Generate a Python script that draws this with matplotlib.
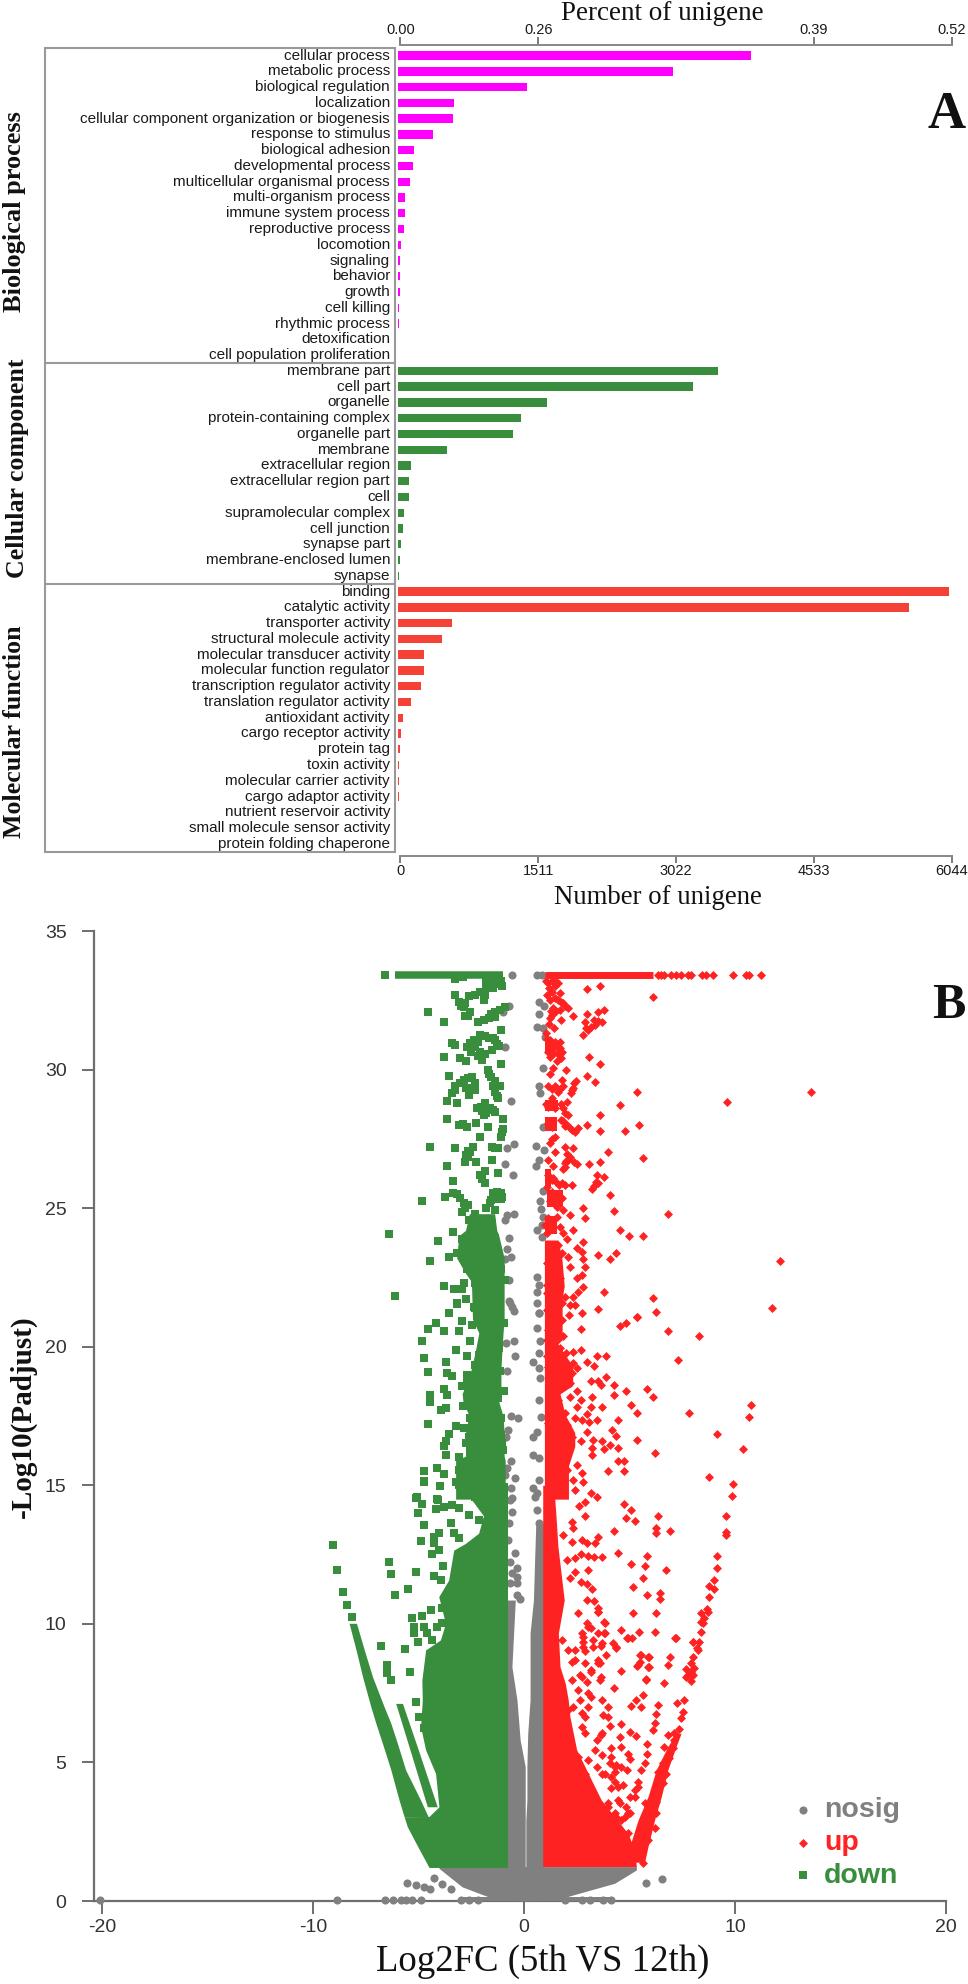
import numpy as np
import matplotlib
matplotlib.use('Agg')
import matplotlib.pyplot as plt
from matplotlib.patches import Rectangle

W, H = 968, 1984

# Panel A: GO classes
bp_terms = ['cellular process', 'metabolic process', 'biological regulation', 'localization',
            'cellular component organization or biogenesis', 'response to stimulus', 'biological adhesion',
            'developmental process', 'multicellular organismal process', 'multi-organism process',
            'immune system process', 'reproductive process', 'locomotion', 'signaling', 'behavior', 'growth',
            'cell killing', 'rhythmic process', 'detoxification', 'cell population proliferation']
bp_values = [3869, 3019, 1421, 612, 605, 381, 177, 170, 129, 75, 75, 68, 34, 27, 24, 20, 15, 12, 8, 6]
cc_terms = ['membrane part', 'cell part', 'organelle', 'protein-containing complex', 'organelle part', 'membrane',
            'extracellular region', 'extracellular region part', 'cell', 'supramolecular complex', 'cell junction',
            'synapse part', 'membrane-enclosed lumen', 'synapse']
cc_values = [3509, 3243, 1638, 1356, 1260, 542, 149, 128, 128, 69, 53, 37, 27, 16]
mf_terms = ['binding', 'catalytic activity', 'transporter activity', 'structural molecule activity',
            'molecular transducer activity', 'molecular function regulator', 'transcription regulator activity',
            'translation regulator activity', 'antioxidant activity', 'cargo receptor activity', 'protein tag',
            'toxin activity', 'molecular carrier activity', 'cargo adaptor activity', 'nutrient reservoir activity',
            'small molecule sensor activity', 'protein folding chaperone']
mf_values = [6044, 5603, 592, 483, 292, 286, 258, 150, 54, 34, 25, 12, 10, 10, 8, 5, 3]
count_ticks = [0, 1511, 3022, 4533, 6044]
percent_ticks = [0, 1511, 4533, 6044]
percent_labels = ['0.00', '0.26', '0.39', '0.52']

# Panel B: points (log2FC, -log10 padj)
top_y = 33.4
down_top_x = [-6.59, -6.1, -1.0]
up_top_x = [1.0, 6.1]
up_top_extra = [6.34, 6.49, 6.65, 6.97, 7.2, 7.44, 7.75, 7.91, 8.45, 8.6, 8.93, 9.92, 10.5, 10.66, 11.24]
gray_base_x = [-20.13, -8.89, -6.59, -6.24, -5.85, -5.61, -5.3, -4.91, -3.0, -2.6, -2.2, 1.94, 2.72, 3.11, 3.74, 4.14]
volcano_xticks = [-20, -10, 0, 10, 20]
volcano_yticks = [0, 5, 10, 15, 20, 25, 30, 35]

gray_points = np.array([
    (-0.58, 33.4), (-0.74, 32.3), (-0.98, 32.07), (-0.9, 30.83), (-0.63, 28.86), (-0.46, 27.3), (-0.79, 27.16),
    (-0.9, 26.59), (-0.52, 26.19), (-0.5, 24.79), (-0.82, 24.75), (-0.93, 24.57), (-0.71, 23.94), (-0.8, 23.52),
    (-0.61, 23.23), (-0.9, 23.17), (-0.74, 22.41), (-0.71, 21.65), (-0.58, 21.45), (-0.5, 21.3), (-0.66, 21.57),
    (-0.86, 20.15), (-0.5, 20.19), (-0.42, 19.67), (-0.82, 19.13), (-0.61, 17.5), (-0.3, 17.44), (-0.77, 17.0),
    (-0.86, 16.76), (-0.61, 15.89), (-0.82, 15.62), (-0.45, 15.25), (-0.89, 15.37), (-0.61, 14.89), (-0.58, 14.53),
    (0.71, 21.21), (0.6, 20.67), (0.76, 20.19), (0.71, 19.77), (0.44, 19.46), (0.68, 19.22), (0.76, 18.86),
    (0.71, 18.08), (0.8, 17.48), (0.6, 16.94), (0.44, 16.73), (0.44, 16.1), (0.71, 15.98), (0.44, 14.89), (0.71, 15.2),
    (0.52, 14.59), (0.6, 33.4), (0.85, 33.4), (0.68, 32.43), (0.96, 32.3), (0.68, 32.01), (0.6, 31.53), (0.91, 31.49),
    (0.99, 31.19), (0.87, 30.05), (0.68, 29.42), (0.76, 29.14), (0.91, 27.94), (0.57, 27.24), (0.94, 27.1),
    (0.68, 26.74), (0.57, 26.53), (0.87, 25.63), (0.76, 25.27), (0.8, 24.96), (0.91, 24.69), (0.6, 24.21), (0.83, 24.39),
    (0.83, 23.97), (0.6, 22.53), (0.68, 22.23), (0.6, 21.99), (0.6, 21.57), (0.68, 21.2),
    (-0.67, 14.47), (-0.59, 14.05), (-0.71, 13.63), (-0.75, 13.03), (-0.43, 12.57), (-0.67, 12.24), (-0.35, 12.0),
    (-0.59, 11.82), (-0.35, 11.7), (-0.67, 11.46), (-0.32, 11.46), (-0.35, 11.04), (-0.2, 10.88), (-0.75, 10.68),
    (0.6, 14.71), (0.6, 14.1), (0.68, 13.63),
    (-5.54, 0.66), (-5.14, 0.57), (-4.75, 0.51), (-4.47, 0.45), (-4.28, 0.82), (-3.89, 0.63), (-3.49, 0.45),
    (5.79, 0.66), (6.54, 0.8)])

down_points = np.array([
    (-3.26, 33.26), (-1.76, 33.17), (-1.06, 33.0), (-1.76, 32.93), (-3.26, 32.69), (-2.31, 32.69), (-1.84, 32.69),
    (-1.92, 32.51), (-3.1, 32.45), (-2.79, 32.39), (-2.86, 32.25), (-0.93, 32.25), (-2.55, 32.09), (-4.56, 32.08),
    (-1.37, 32.09), (-2.82, 31.94), (-1.68, 31.85), (-1.4, 31.89), (-3.82, 31.73), (-2.19, 31.73), (-1.09, 31.44),
    (-2.08, 31.25), (-2.39, 31.07), (-1.68, 31.13), (-1.37, 31.07), (-2.71, 30.83), (-2.31, 30.83), (-1.29, 30.93),
    (-2.08, 30.65), (-1.53, 30.71), (-3.41, 30.95), (-3.26, 30.89), (-2.0, 30.35), (-3.82, 30.47), (-3.02, 30.41),
    (-2.78, 30.32), (-1.09, 30.19), (-1.72, 29.99), (-1.56, 29.75), (-3.57, 29.77), (-2.47, 29.72), (-2.86, 29.63),
    (-1.4, 29.57), (-2.31, 29.51), (-1.13, 29.42), (-3.26, 29.39), (-2.31, 29.27), (-3.41, 29.14), (-1.4, 29.2),
    (-2.63, 29.08), (-1.24, 28.99), (-3.65, 28.87), (-3.18, 28.78), (-1.87, 28.78), (-2.23, 28.63), (-1.61, 28.6),
    (-1.37, 28.48), (-1.92, 28.36), (-3.65, 28.22), (-0.98, 28.22), (-3.1, 28.0), (-2.71, 27.92), (-2.27, 28.09),
    (-1.72, 27.93), (-0.98, 27.86), (-2.08, 27.58), (-1.09, 27.58), (-4.47, 27.22), (-3.26, 27.17), (-2.44, 27.22),
    (-1.53, 27.22), (-1.24, 27.16), (-2.78, 26.9), (-2.55, 27.04), (-1.53, 26.74), (-2.82, 26.68), (-2.27, 26.68),
    (-3.65, 26.52), (-1.87, 26.35), (-2.08, 26.19), (-1.24, 26.26), (-1.87, 25.9), (-3.37, 25.98), (-4.83, 25.27),
    (-3.73, 25.42), (-3.38, 25.56), (-3.02, 25.36), (-2.66, 25.11), (-2.97, 24.87), (-1.29, 25.6), (-1.45, 25.42),
    (-1.06, 25.39), (-1.61, 25.2), (-1.81, 25.0), (-1.37, 24.93), (-2.31, 24.79), (-2.63, 24.57), (-2.08, 24.51),
    (-1.53, 24.48), (-1.76, 24.27), (-6.39, 24.08), (-3.37, 24.15), (-4.09, 23.8), (-2.94, 23.88), (-2.63, 23.97),
    (-2.31, 23.79), (-1.37, 23.91), (-2.78, 23.67), (-2.0, 23.67), (-3.57, 23.25), (-3.18, 23.37), (-2.66, 23.31),
    (-1.84, 23.37), (-1.29, 23.37), (-4.47, 23.09), (-1.61, 23.07), (-2.71, 22.81), (-2.23, 22.83), (-1.84, 22.83),
    (-1.09, 22.81), (-1.92, 22.53), (-1.37, 22.53), (-0.93, 22.41), (-3.81, 22.2), (-3.34, 22.08), (-2.86, 22.29),
    (-2.34, 22.31), (-2.94, 22.08), (-2.08, 22.11), (-1.21, 22.17), (-1.4, 21.87), (-6.12, 21.84), (-2.74, 21.71),
    (-3.18, 21.57), (-2.0, 21.75), (-1.61, 21.69), (-2.39, 21.45), (-1.68, 21.39), (-1.21, 21.39), (-3.57, 21.2),
    (-2.0, 21.15), (-1.37, 21.15),
    (-3.17, 21.55), (-3.54, 21.21), (-4.2, 20.87), (-4.56, 20.64), (-3.8, 20.57), (-4.83, 20.22), (-2.55, 20.22),
    (-3.1, 20.58), (-2.31, 21.39), (-1.13, 21.09), (-1.84, 20.97), (-2.94, 20.91), (-2.47, 20.79), (-1.9, 20.55),
    (-0.97, 20.85), (-1.45, 20.31), (-1.21, 19.95), (-1.9, 20.07), (-3.25, 19.89), (-2.7, 19.67), (-2.15, 19.7),
    (-1.45, 19.65), (-2.15, 19.4), (-2.31, 19.34), (-4.73, 19.6), (-3.72, 19.46), (-4.56, 19.1), (-3.65, 19.04),
    (-3.44, 18.95), (-2.7, 18.98), (-2.07, 18.95), (-1.4, 19.02), (-1.13, 19.12), (-2.15, 18.74), (-2.7, 18.68),
    (-2.97, 18.59), (-1.71, 18.62), (-3.8, 18.48), (-0.97, 18.41), (-2.47, 18.42), (-3.65, 18.26), (-4.46, 18.26),
    (-4.46, 18.02), (-1.6, 18.26), (-1.24, 18.14), (-2.91, 17.86), (-2.62, 17.96), (-2.23, 17.86), (-1.87, 17.84),
    (-1.52, 17.84), (-1.52, 17.68), (-3.72, 17.78), (-3.93, 17.7), (-4.56, 17.2), (-2.55, 17.42), (-1.08, 17.42),
    (-3.25, 17.14), (-2.86, 17.06), (-2.47, 17.14), (-2.0, 17.24), (-1.6, 17.22), (-1.13, 17.12), (-3.57, 16.84),
    (-2.62, 16.76), (-2.0, 16.94), (-1.08, 16.82), (-3.72, 16.58), (-2.78, 16.52), (-2.15, 16.46), (-1.05, 16.52),
    (-3.8, 16.4), (-2.55, 16.22), (-1.76, 16.28), (-3.72, 16.1), (-1.29, 16.16), (-1.02, 16.28), (-3.1, 16.01),
    (-4.73, 15.53), (-4.12, 15.62), (-3.8, 15.41), (-2.78, 15.8), (-3.1, 15.56), (-2.31, 15.67), (-1.6, 15.74),
    (-1.13, 15.56), (-4.73, 15.17), (-3.25, 15.13), (-4.01, 14.98), (-2.62, 15.31), (-2.0, 15.43), (-1.68, 15.2),
    (-1.21, 15.13), (-3.0, 15.0), (-2.15, 14.83), (-1.45, 14.77), (-5.09, 14.57), (-4.12, 14.5), (-2.31, 14.59),
    (-4.76, 15.13), (-4.0, 14.97), (-3.1, 15.01), (-5.12, 14.55), (-4.83, 14.32), (-4.1, 14.47), (-4.2, 14.13),
    (-3.81, 14.23), (-3.42, 14.29), (-3.1, 14.17), (-5.02, 13.99), (-2.63, 13.93), (-2.48, 14.65), (-2.16, 13.75),
    (-4.76, 13.57), (-3.47, 13.63), (-4.05, 13.29), (-4.28, 13.15), (-3.34, 13.27), (-3.1, 13.08), (-4.91, 13.0),
    (-4.28, 12.9), (-4.05, 12.66), (-4.39, 12.52), (-9.06, 12.86), (-8.87, 11.94), (-8.61, 11.16), (-8.42, 10.68),
    (-8.18, 10.26), (-6.41, 12.22), (-3.83, 12.09), (-6.31, 11.8), (-5.12, 11.88), (-4.28, 11.74), (-3.92, 11.6),
    (-5.5, 11.24), (-6.13, 11.04), (-4.44, 10.5), (-4.83, 10.28), (-3.89, 10.56), (-5.3, 10.2), (-5.23, 9.9),
    (-5.23, 9.66), (-4.75, 9.9), (-3.89, 10.02), (-4.13, 9.9), (-4.6, 9.66), (-4.39, 9.42), (-5.04, 9.36), (-6.77, 9.21),
    (-5.67, 9.08), (-6.49, 8.51), (-6.49, 8.21), (-5.39, 8.27), (-6.32, 7.97), (-5.11, 7.17), (-4.99, 6.65),
    (-4.59, 6.95), (-4.75, 6.23),
    (-2.1, 32.8), (-1.5, 32.95), (-1.2, 33.15), (-2.6, 32.65), (-3.0, 32.3), (-2.65, 31.95), (-1.55, 32.0), (-1.15, 32.15),
    (-1.9, 31.8), (-2.2, 31.0), (-1.85, 31.2), (-1.5, 31.15), (-2.55, 30.95), (-2.5, 30.65), (-1.85, 30.55), (-2.2, 30.5),
    (-1.2, 30.85), (-1.65, 29.85), (-2.65, 29.7), (-3.05, 29.5), (-1.5, 29.4), (-2.45, 29.35), (-2.75, 29.35), (-3.3, 29.25),
    (-1.3, 29.05), (-2.05, 28.65), (-2.0, 28.5), (-1.8, 28.45), (-1.5, 28.55), (-2.9, 28.05), (-1.05, 27.75), (-2.65, 27.05),
    (-2.65, 26.85), (-1.4, 27.18), (-2.0, 26.05), (-3.2, 25.5), (-2.85, 25.2), (-2.8, 25.0), (-1.55, 25.3), (-1.35, 25.55),
    (-1.2, 25.45)])

# tightly packed clumps of the down cloud: x from, x to, y from, y to
down_clumps = np.array([
    (-1.98, -0.9, 32.95, 33.35), (-3.4, -2.7, 33.2, 33.3), (-1.68, -0.9, 25.2, 25.7)])

up_points = np.array([
    (2.96, 32.91), (3.6, 33.0), (6.09, 32.63), (1.15, 33.11), (1.62, 33.11), (1.46, 33.0), (1.31, 32.81), (1.7, 32.78),
    (1.23, 32.51), (1.62, 32.51), (1.86, 32.39), (2.09, 32.21), (1.39, 32.21), (1.7, 32.15), (1.31, 31.97), (1.75, 31.79),
    (1.23, 31.85), (2.33, 31.94), (2.96, 32.01), (3.51, 32.09), (3.79, 32.15), (2.88, 31.73), (3.7, 31.73), (3.35, 31.61),
    (3.04, 31.43), (1.43, 31.49), (2.77, 31.23), (1.04, 31.31), (1.23, 31.07), (1.7, 31.01), (1.31, 30.83), (1.7, 30.77),
    (1.15, 30.65), (1.78, 30.65), (1.23, 30.47), (1.75, 30.41), (3.07, 30.47), (3.6, 30.19), (1.38, 30.05), (1.97, 29.97),
    (1.23, 29.83), (2.96, 29.77), (3.35, 29.54), (1.78, 29.63), (2.44, 29.57), (1.15, 29.41), (1.46, 29.41), (1.86, 29.39),
    (2.33, 29.33), (1.62, 29.2), (2.2, 29.14), (5.35, 29.19), (13.6, 29.19), (9.64, 28.84), (1.31, 28.96), (2.01, 28.84),
    (1.15, 28.66), (1.46, 28.6), (1.86, 28.6), (4.53, 28.71), (2.09, 28.36), (3.6, 28.36), (1.15, 28.06), (1.31, 27.94),
    (1.75, 28.18), (2.01, 28.0), (2.28, 27.82), (2.56, 27.88), (2.96, 28.01), (3.6, 27.8), (4.8, 27.8), (5.46, 28.01),
    (1.46, 27.58), (1.23, 27.34), (1.93, 27.22), (2.33, 27.16), (3.98, 27.02), (1.46, 27.04), (1.15, 26.74), (2.17, 26.86),
    (1.93, 26.62), (5.63, 26.81), (2.49, 26.58), (3.07, 26.59), (3.6, 26.68), (1.38, 26.53), (1.86, 26.4), (1.15, 26.2),
    (1.38, 26.08), (1.78, 25.9), (2.25, 25.84), (3.43, 26.2), (3.79, 26.11), (3.51, 25.9), (3.22, 25.68), (1.07, 25.78),
    (1.31, 25.6), (1.62, 25.48), (4.06, 25.48), (1.23, 25.24), (1.78, 25.36), (1.54, 25.05), (2.78, 25.0), (4.25, 24.91),
    (6.81, 24.79), (1.86, 24.93), (2.17, 24.75), (2.88, 24.63), (1.15, 24.63), (1.54, 24.69), (0.99, 24.39), (1.31, 24.39),
    (1.7, 24.33), (1.07, 24.09), (1.86, 24.12), (2.33, 24.21), (4.53, 24.21), (4.99, 24.01), (5.63, 24.01), (2.05, 23.88),
    (2.78, 23.79), (1.23, 23.67), (1.62, 23.67), (2.49, 23.55), (2.72, 23.43), (1.31, 23.43), (1.78, 23.37), (2.09, 23.25),
    (3.51, 23.31), (4.36, 23.37), (4.06, 23.17), (2.8, 23.17), (12.13, 23.09), (1.07, 23.01), (2.17, 22.89), (2.88, 22.89),
    (1.31, 22.59), (2.72, 22.59), (1.7, 22.47), (2.49, 22.47), (1.07, 22.23), (1.46, 22.23), (2.8, 22.17), (2.56, 21.99),
    (3.79, 21.99), (1.07, 21.93), (1.54, 21.87), (1.93, 21.81), (2.31, 21.81), (6.09, 21.77), (1.31, 21.63), (1.78, 21.57),
    (2.17, 21.51), (3.51, 21.35), (11.76, 21.41), (6.24, 21.27), (1.07, 21.33), (1.54, 21.27), (2.72, 21.23), (5.35, 21.09),
    (5.36, 21.06), (4.81, 20.87), (4.53, 20.73), (2.69, 20.64), (6.81, 20.58), (8.3, 20.37), (2.41, 21.51), (2.14, 21.14),
    (1.31, 20.97), (1.78, 20.97), (1.15, 20.61), (1.54, 20.61), (1.86, 20.37), (1.07, 20.25), (1.31, 20.07), (1.7, 19.95),
    (2.69, 19.89), (2.33, 19.8), (2.0, 19.77), (3.43, 19.68), (3.9, 19.67), (2.96, 19.46), (3.33, 19.32), (7.28, 19.52),
    (1.07, 19.65), (1.46, 19.6), (1.15, 19.28), (1.54, 19.22), (2.33, 19.4), (2.49, 19.22), (1.31, 18.98), (1.94, 18.98),
    (2.25, 19.04), (3.9, 18.9), (3.19, 18.77), (3.51, 18.77), (3.62, 18.61), (4.26, 18.62), (2.17, 18.68), (2.49, 18.42),
    (4.81, 18.41), (5.82, 18.48), (1.46, 18.56), (4.26, 18.26), (6.1, 18.19), (3.24, 18.19), (2.69, 18.06), (1.23, 18.2),
    (1.62, 18.08), (2.17, 18.2), (1.31, 17.84), (2.52, 17.84), (3.15, 17.84), (3.7, 17.84), (5.08, 17.91), (10.74, 17.91),
    (5.36, 17.62), (7.83, 17.62), (10.66, 17.48), (1.94, 17.6), (2.96, 17.56), (2.41, 17.42), (4.45, 17.35), (3.43, 17.35),
    (3.07, 17.28), (1.15, 17.24), (1.54, 17.24), (2.01, 17.18), (2.72, 17.36), (4.17, 17.0), (2.96, 16.93), (1.31, 16.94),
    (2.25, 16.76), (4.36, 16.78), (9.12, 16.85), (5.36, 16.64), (2.69, 16.58), (3.27, 16.64), (3.7, 16.58), (4.07, 16.45),
    (1.23, 16.46), (2.01, 16.46), (3.24, 16.34), (3.79, 16.3), (4.45, 16.36), (10.39, 16.3), (3.22, 16.1), (6.18, 16.16),
    (1.46, 16.16), (2.09, 16.28), (4.45, 15.87), (4.73, 15.87), (2.52, 15.74), (2.01, 15.56), (3.98, 15.53), (4.73, 15.53),
    (8.74, 15.31), (2.72, 15.43), (1.7, 15.31), (2.33, 15.2), (2.8, 15.13), (9.91, 15.04), (3.16, 14.71), (3.43, 14.59),
    (9.84, 14.62), (1.78, 14.77), (2.41, 14.83), (2.6, 14.26), (2.88, 14.41), (4.72, 14.32), (5.08, 14.11), (4.81, 13.83),
    (5.27, 13.71), (6.34, 13.9), (9.58, 13.9), (2.88, 13.9), (2.25, 13.69), (2.33, 13.45), (4.26, 13.35), (6.26, 13.45),
    (6.26, 13.27), (6.92, 13.35), (9.56, 13.33), (9.56, 13.2), (1.86, 13.2), (3.51, 13.15), (2.72, 13.03), (2.25, 12.96),
    (2.96, 12.9), (3.35, 12.9), (4.45, 12.57), (5.82, 12.45), (9.12, 12.45), (2.69, 12.52), (3.04, 12.45), (3.32, 12.42),
    (3.7, 12.42), (2.41, 12.36), (2.01, 12.3), (5.08, 12.16), (5.71, 12.09), (9.12, 12.03), (6.73, 11.94), (3.04, 11.94),
    (2.41, 11.88), (5.63, 11.67), (9.01, 11.6), (2.17, 11.64), (2.69, 11.52), (2.96, 11.44), (5.16, 11.32), (3.24, 11.24),
    (8.74, 11.36), (8.98, 11.24), (6.46, 11.12), (5.82, 11.03), (6.46, 10.88), (8.74, 10.97), (2.96, 10.86), (3.32, 10.82),
    (3.51, 10.56), (8.67, 10.52), (3.51, 10.41), (5.17, 10.4), (6.26, 10.4), (8.38, 10.4), (8.7, 10.44), (8.54, 10.2),
    (3.79, 10.05), (8.46, 10.02), (2.56, 10.38), (2.96, 10.02), (4.61, 9.78), (5.44, 9.71), (6.18, 9.71), (8.38, 9.71),
    (3.79, 9.66), (3.19, 9.84), (2.8, 9.54), (4.89, 9.5), (5.11, 9.5), (7.17, 9.5), (3.27, 9.42), (2.77, 9.33), (8.02, 9.36),
    (8.3, 9.36), (3.62, 9.21), (3.27, 9.17), (4.21, 9.3), (4.37, 9.12), (8.18, 9.12), (2.41, 9.06), (2.88, 9.02), (3.9, 8.87),
    (5.55, 8.87), (5.9, 8.79), (6.92, 8.79), (8.02, 8.81), (5.47, 8.63), (3.59, 8.57), (6.81, 8.51), (5.9, 8.45), (5.36, 8.48),
    (7.91, 8.6), (7.67, 8.37), (8.07, 8.39), (4.61, 8.31), (3.16, 8.27), (2.25, 8.63), (7.75, 8.15), (7.99, 8.15), (5.79, 8.0),
    (3.66, 8.09), (2.64, 8.15), (8.38, 10.08), (3.82, 10.04), (3.51, 10.44), (7.2, 9.48),
    (4.92, 9.48), (7.99, 9.36), (8.22, 9.06), (4.37, 9.18), (3.82, 9.66), (5.47, 8.87), (5.87, 8.79), (5.4, 8.51),
    (5.87, 8.45), (3.51, 8.57), (7.91, 8.27), (7.67, 8.09), (7.91, 7.94), (5.79, 7.97), (6.61, 7.85), (3.59, 7.97), (2.96, 7.91),
    (4.25, 7.67), (5.63, 7.43), (5.32, 7.25), (7.25, 7.13), (7.6, 7.25), (5.08, 7.03), (5.55, 6.99), (6.34, 7.09), (3.98, 7.01),
    (7.52, 6.83), (6.26, 6.75), (3.74, 6.71), (7.44, 6.59), (6.18, 6.41), (4.06, 6.32), (4.61, 6.4), (6.1, 6.17), (7.36, 6.19),
    (7.12, 6.05), (5.0, 6.08), (5.32, 5.95), (3.62, 5.99), (4.53, 5.93), (6.81, 5.99), (7.12, 5.81), (5.82, 5.65), (4.61, 5.57),
    (6.65, 5.57), (4.14, 5.51), (7.05, 5.51), (5.82, 5.3), (4.92, 5.3), (5.0, 5.11), (6.89, 5.15), (3.67, 5.27), (5.71, 4.99),
    (6.57, 4.97), (4.37, 4.9), (4.06, 4.97), (4.89, 4.73), (5.55, 4.73), (6.34, 4.66), (4.29, 4.66), (6.73, 4.6), (3.82, 4.6),
    (4.29, 4.3), (5.4, 4.3), (6.57, 4.24), (4.69, 4.18), (5.24, 4.0), (6.34, 4.06), (4.14, 4.06), (5.0, 3.76), (5.71, 3.52),
    (4.45, 3.64), (3.98, 3.52), (4.84, 3.4), (6.26, 3.58), (5.94, 3.16), (6.26, 3.16), (4.37, 3.04), (4.61, 2.92), (5.0, 3.16),
    (6.18, 2.62), (5.63, 1.36), (5.87, 2.2),
    (2.33, 7.01), (2.72, 6.77), (3.04, 7.01), (3.19, 7.37), (2.64, 7.25), (2.09, 6.89), (3.67, 6.05), (3.43, 5.81), (2.88, 6.05),
    (2.72, 6.29), (2.56, 5.21), (3.04, 5.09), (3.43, 4.85), (3.67, 4.6), (4.29, 4.85), (4.14, 4.48), (4.45, 4.12), (2.88, 4.6),
    (2.56, 4.85), (3.19, 3.64), (3.67, 3.04), (3.98, 3.4), (4.29, 3.16), (4.53, 3.52), (4.92, 3.16), (5.4, 4.12), (5.24, 3.76),
    (4.77, 3.04), (4.92, 2.44), (4.45, 2.44), (2.72, 9.66), (3.04, 9.9), (3.51, 9.66), (2.8, 9.18), (2.41, 8.69), (2.88, 8.57),
    (3.19, 8.33), (2.72, 8.09), (3.67, 9.3), (3.51, 8.69), (2.25, 7.97), (2.09, 9.06), (1.78, 9.42), (2.56, 7.61), (3.04, 7.49),
    (3.67, 7.25), (2.88, 6.65), (3.98, 6.65), (3.35, 5.45), (4.14, 5.21), (4.61, 4.85),
    (1.05, 33.2), (1.3, 33.2), (1.5, 33.15), (1.2, 32.95), (1.1, 32.7), (1.45, 32.6), (1.75, 32.45), (1.95, 32.3), (1.25, 32.1),
    (1.5, 32.1), (1.2, 31.65), (3.3, 31.8), (3.5, 31.75), (3.15, 31.55), (2.95, 31.5), (1.1, 31.1), (1.45, 31.0), (1.55, 30.8),
    (1.4, 30.6), (1.6, 30.55), (1.55, 30.3), (1.7, 30.55), (2.35, 29.5), (2.25, 29.25), (1.3, 29.3), (1.7, 29.3), (1.05, 28.75),
    (1.75, 28.75), (1.95, 28.45), (1.85, 28.15), (1.95, 27.95), (2.15, 27.9), (2.4, 27.75), (2.1, 26.75), (1.3, 27.5), (2.05, 26.95),
    (2.0, 26.7), (1.95, 26.5), (2.35, 26.65), (1.3, 26.0), (1.5, 25.95), (1.65, 25.85), (1.95, 25.85), (3.4, 25.95), (3.3, 25.8)])

# tightly packed clumps of the up cloud: x from, x to, y from, y to
up_clumps = np.array([
    (1.0, 1.62, 28.5, 28.9), (1.0, 1.55, 27.8, 28.3), (1.0, 1.25, 25.8, 26.4), (1.07, 1.85, 25.05, 25.65),
    (1.0, 1.55, 24.05, 24.7), (1.0, 1.45, 30.6, 31.0)])

# Solid parts of the cloud, too dense to read point by point: edges in data units
down_mass_y = [1.21, 2.0, 2.68, 3.04, 3.05, 3.4, 4.6, 5.45, 6.29, 7.25, 7.97, 9.06, 9.42, 10.02, 10.98, 11.58, 12.66, 12.9,
               13.27, 13.9, 14.47, 15.1]
down_mass_left = [-4.51, -5.07, -5.54, -5.69, -4.51, -4.04, -4.2, -4.67, -4.91, -4.83, -4.85, -4.67, -3.97, -3.73, -4.05,
                  -3.58, -3.34, -2.79, -2.16, -1.93, -2.48, -2.32]
down_edge_right = -0.79
down_streak1_y = [3.04, 3.64, 4.73, 5.69, 6.41, 7.01, 8.09, 9.06, 10.02]
down_streak1_left = [-5.69, -5.93, -6.32, -6.72, -7.03, -7.27, -7.66, -7.97, -8.3]
down_streak1_right = [-4.55, -4.91, -5.62, -6.01, -6.32, -6.64, -7.19, -7.58, -7.95]
down_streak2_y = [3.4, 5.57, 7.13]
down_streak2_left = [-4.59, -5.46, -6.09]
down_streak2_right = [-4.12, -5.07, -5.77]
down_column_y = [14.5, 15.9, 16.05, 16.9, 17.5, 18.0, 18.3, 19.2, 19.9, 20.5, 21.0, 22.35, 22.65, 23.2, 24.0, 24.2, 24.8]
down_column_left = [-3.25, -3.25, -2.78, -2.78, -2.6, -2.9, -2.94, -2.5, -2.3, -2.15, -2.45, -2.5, -2.78, -3.2, -3.1, -2.78, -2.6]
down_column_right = [-0.9, -0.9, -0.95, -0.95, -1.0, -1.2, -1.1, -1.1, -1.05, -1.0, -0.95, -0.95, -0.95, -0.95, -1.2, -1.3, -1.4]

up_mass_y = [1.24, 1.84, 2.44, 3.04, 3.64, 4.24, 4.85, 5.45, 6.05, 6.65, 7.25, 7.85, 8.45, 9.66, 10.86, 11.5, 12.8, 14.0, 15.0]
up_mass_right = [5.32, 5.24, 4.92, 4.29, 3.66, 3.27, 2.88, 2.49, 2.33, 2.17, 2.09, 1.95, 1.7, 1.62, 1.9, 1.8, 1.6, 1.5, 1.4]
up_edge_left = 0.88
up_streak_y = [1.4, 1.96, 2.92, 3.76, 4.73, 5.57, 6.05]
up_streak_left = [5.0, 5.0, 5.4, 5.87, 6.26, 6.81, 7.2]
up_streak_right = [5.71, 5.87, 6.18, 6.5, 6.81, 7.2, 7.44]
up_column_y = [14.5, 15.7, 16.4, 16.9, 17.55, 18.3, 18.6, 19.3, 20.1, 20.25, 21.7, 22.2, 23.25, 23.85]
up_column_right = [2.1, 2.1, 2.4, 2.4, 1.94, 1.7, 2.3, 2.3, 1.6, 1.8, 1.8, 1.9, 1.78, 1.6]

gray_left_y = [1.21, 2.9, 3.64, 4.85, 5.81, 7.25, 8.45, 9.66, 10.86]
gray_left_right = [0.05, 0.05, 0.05, 0.05, -0.19, -0.34, -0.58, -0.5, -0.42]
gray_right_y = [1.21, 2.9, 3.64, 4.85, 6.05, 7.25, 8.45, 9.66, 10.86, 12.4, 13.6]
gray_right_left = [0.08, 0.08, 0.13, 0.13, 0.17, 0.28, 0.28, 0.28, 0.44, 0.5, 0.55]
gray_right_right = 0.92
gray_base_lfc = [-4.04, -2.94, -1.69, -0.11, 1.46, 2.56, 4.29, 5.32]
gray_base_low = [1.18, 0.51, 0.15, 0.0, 0.03, 0.27, 0.64, 1.12]
gray_base_top = 1.24

sans = 'Liberation Sans'
serif = 'Liberation Serif'
fig = plt.figure(figsize=(W / 100, H / 100), dpi=100, facecolor='white')


def px_axes(left, top, right, bottom):
    return fig.add_axes([left / W, 1 - bottom / H, (right - left) / W, (bottom - top) / H])


# ---- Panel A
ax = px_axes(45, 47.7, 951.6, 851.7)
unit = 551.1 / 6044
box_left = -(400.5 - 45) / unit
box_right = -5 / unit
n_rows = len(bp_terms) + len(cc_terms) + len(mf_terms)
ax.set_xlim(box_left, 6044)
ax.set_ylim(n_rows, 0)
row = 0
for terms, values, color in [(bp_terms, bp_values, '#FF00FF'), (cc_terms, cc_values, '#388E3C'),
                             (mf_terms, mf_values, '#F44336')]:
    rows = np.arange(len(terms)) + row + 0.5
    ax.barh(rows, values, left=-30, height=0.53, color=color, linewidth=0)
    for r, term in zip(rows, terms):
        ax.text(box_right - 60, r, term, ha='right', va='center', fontsize=11, family=sans, color='#1a1a1a')
    row += len(terms)
    if row < n_rows:
        ax.plot([box_left, box_right], [row, row], color='#999999', lw=1.5, clip_on=False)
ax.add_patch(Rectangle((box_left, 0), box_right - box_left, n_rows, fill=False, edgecolor='#999999', lw=1.5, clip_on=False))

for side in ['left', 'right', 'top']:
    ax.spines[side].set_visible(False)
ax.spines['bottom'].set_bounds(0, 6044)
ax.spines['bottom'].set_position(('outward', 3))
ax.spines['bottom'].set_color('#888888')
ax.spines['bottom'].set_linewidth(1.4)
ax.set_yticks([])
ax.set_xticks(count_ticks)
ax.set_xticklabels([str(t) for t in count_ticks], family=sans, fontsize=10.5, color='#1a1a1a')
ax.tick_params(axis='x', length=5, width=1.2, color='#666666', pad=1)

ax_top = ax.twiny()
ax_top.set_xlim(ax.get_xlim())
for side in ['left', 'right', 'bottom']:
    ax_top.spines[side].set_visible(False)
ax_top.spines['top'].set_bounds(0, 6044)
ax_top.spines['top'].set_position(('outward', 2))
ax_top.spines['top'].set_color('#888888')
ax_top.spines['top'].set_linewidth(1.4)
ax_top.set_xticks(percent_ticks)
ax_top.set_xticklabels(percent_labels, family=sans, fontsize=10.5, color='#1a1a1a')
ax_top.tick_params(axis='x', length=6, width=1.2, color='#666666', pad=0)

fig.text(662 / W, 1 - 14 / H, 'Percent of unigene', family=serif, fontsize=19.5, ha='center', va='center', color='#111111')
fig.text(658 / W, 1 - 898 / H, 'Number of unigene', family=serif, fontsize=19.3, ha='center', va='center', color='#111111')
fig.text(947 / W, 1 - 115 / H, 'A', family=serif, weight='bold', fontsize=38, ha='center', va='center', color='#111111')
fig.text(15 / W, 1 - 212 / H, 'Biological process', family=serif, weight='bold', fontsize=19, rotation=90, ha='center', va='center', color='#111111')
fig.text(18 / W, 1 - 468 / H, 'Cellular component', family=serif, weight='bold', fontsize=18.6, rotation=90, ha='center', va='center', color='#111111')
fig.text(15 / W, 1 - 732 / H, 'Molecular function', family=serif, weight='bold', fontsize=18.6, rotation=90, ha='center', va='center', color='#111111')

# ---- Panel B
gray, red, green = '#808080', '#FF2222', '#388E3C'
bx = px_axes(94.3, 931, 946, 1901)
bx.set_xlim(-20.38, 20)
bx.set_ylim(0, 35)

bx.fill_betweenx(gray_left_y, down_edge_right - 0.06, gray_left_right, color=gray, lw=0, zorder=3)
bx.fill_betweenx(gray_right_y, gray_right_left, gray_right_right, color=gray, lw=0, zorder=3)
bx.fill_between(gray_base_lfc, gray_base_low, gray_base_top, color=gray, lw=0, zorder=3)
nosig = bx.scatter(gray_points[:, 0], gray_points[:, 1], s=34, c=gray, marker='o', lw=0, zorder=3)
bx.scatter(gray_base_x, [0.03] * len(gray_base_x), s=34, c=gray, marker='o', lw=0, zorder=3, clip_on=False)
bx.hlines(0.03, -3.0, 4.2, color=gray, lw=5, zorder=3)

bx.fill_betweenx(down_mass_y, down_mass_left, down_edge_right, color=green, lw=0, zorder=4)
bx.fill_betweenx(down_streak1_y, down_streak1_left, down_streak1_right, color=green, lw=0, zorder=4)
bx.fill_betweenx(down_streak2_y, down_streak2_left, down_streak2_right, color=green, lw=0, zorder=4)
bx.fill_betweenx(down_column_y, down_column_left, down_column_right, color=green, lw=0, zorder=4)
bx.barh(down_clumps[:, 2], down_clumps[:, 1] - down_clumps[:, 0], left=down_clumps[:, 0],
        height=down_clumps[:, 3] - down_clumps[:, 2], align='edge', color=green, lw=0, zorder=4)
down = bx.scatter(down_points[:, 0], down_points[:, 1], s=32, c=green, marker='s', lw=0, zorder=4)
bx.scatter(down_top_x[0], top_y, s=32, c=green, marker='s', lw=0, zorder=4)
bx.hlines(top_y, down_top_x[1], down_top_x[2], color=green, lw=5.4, zorder=4)

bx.fill_betweenx(up_mass_y, up_edge_left, up_mass_right, color=red, lw=0, zorder=5)
bx.fill_betweenx(up_streak_y, up_streak_left, up_streak_right, color=red, lw=0, zorder=5)
bx.fill_betweenx(up_column_y, up_edge_left + 0.08, up_column_right, color=red, lw=0, zorder=5)
bx.barh(up_clumps[:, 2], up_clumps[:, 1] - up_clumps[:, 0], left=up_clumps[:, 0],
        height=up_clumps[:, 3] - up_clumps[:, 2], align='edge', color=red, lw=0, zorder=5)
up = bx.scatter(up_points[:, 0], up_points[:, 1], s=21, c=red, marker='D', lw=0, zorder=5)
bx.scatter(up_top_extra, [top_y] * len(up_top_extra), s=21, c=red, marker='D', lw=0, zorder=5)
bx.hlines(top_y, up_top_x[0], up_top_x[1], color=red, lw=5, zorder=5)

for side in ['top', 'right']:
    bx.spines[side].set_visible(False)
for side in ['left', 'bottom']:
    bx.spines[side].set_color('#6e6e6e')
    bx.spines[side].set_linewidth(1.6)
bx.set_xticks(volcano_xticks)
bx.set_xticklabels([str(t) for t in volcano_xticks], family=sans)
bx.set_yticks(volcano_yticks)
bx.set_yticklabels([str(t) for t in volcano_yticks], family=sans)
bx.tick_params(axis='both', length=9, width=1.4, color='#6e6e6e', labelsize=14, labelcolor='#333333')
bx.tick_params(axis='y', pad=11)
bx.tick_params(axis='x', pad=4)

bx.legend([nosig, up, down], ['nosig', 'up', 'down'], loc='lower right', bbox_to_anchor=(0.976, -0.014), frameon=False,
          prop={'family': sans, 'weight': 'bold', 'size': 20.5}, labelcolor=[gray, red, green], handlelength=0.8,
          handletextpad=0.35, labelspacing=0.24, markerscale=1.0)

fig.text(543 / W, 1 - 1962 / H, 'Log2FC (5th VS 12th)', family=serif, fontsize=26.5, ha='center', va='center', color='#111111')
fig.text(23 / W, 1 - 1417 / H, '-Log10(Padjust)', family=serif, weight='bold', fontsize=21, rotation=90, ha='center', va='center', color='#111111')
fig.text(949 / W, 1 - 1006 / H, 'B', family=serif, weight='bold', fontsize=36, ha='center', va='center', color='#111111')

fig.savefig('out.png', dpi=100)
